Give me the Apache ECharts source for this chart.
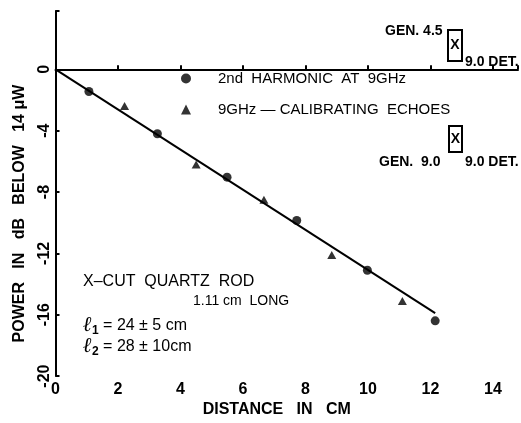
<!DOCTYPE html>
<html><head><meta charset="utf-8">
<script src="https://cdn.jsdelivr.net/npm/echarts@6/dist/echarts.min.js"></script>
<style>html,body{margin:0;padding:0;background:#fff}#c{width:521px;height:423px}</style>
</head><body><div id="c"></div>
<script>
// Data
const harmonicX = [1.07, 3.26, 5.49, 7.72, 9.98, 12.15];
const harmonicY = [-1.45, -4.2, -7.03, -9.86, -13.1, -16.4];
const echoX = [2.21, 4.5, 6.67, 8.84, 11.1];
const echoY = [-2.4, -6.2, -8.5, -12.1, -15.1];
const fitX = [0, 12.15];
const fitY = [0, -15.9];
const xTicks = [0, 2, 4, 6, 8, 10, 12, 14];
const yTicks = [0, -4, -8, -12, -16, -20];
const seriesNames = ['2nd  HARMONIC  AT  9GHz', '9GHz — CALIBRATING  ECHOES'];

const zip = (a, b) => a.map((v, i) => [v, b[i]]);
const FONT = 'Liberation Sans';
const chart = echarts.init(document.getElementById('c'));
chart.setOption({
  backgroundColor: '#fff',
  animation: false,
  textStyle: { fontFamily: FONT, color: '#000' },
  grid: { left: 55.5, right: 1, top: 11, bottom: 42 },
  legend: {
    orient: 'vertical', left: 176, top: 66, itemWidth: 10, itemHeight: 10, itemGap: 16,
    data: seriesNames,
    textStyle: { fontFamily: FONT, fontSize: 15, color: '#000', padding: [0, 0, 0, 22] }
  },
  xAxis: {
    type: 'value', min: 0, max: 14.8, interval: 2,
    name: 'DISTANCE   IN   CM', nameLocation: 'middle', nameGap: 25,
    nameTextStyle: { fontFamily: FONT, fontSize: 16, fontWeight: 'bold', color: '#000', padding: [0, 20, 0, 0] },
    axisLine: { lineStyle: { color: '#000', width: 2 } },
    axisTick: { inside: true, length: 4, lineStyle: { color: '#000', width: 2 } },
    axisLabel: { fontSize: 16, fontWeight: 'bold', color: '#000', margin: 5,
      formatter: v => xTicks.includes(v) ? String(v) : '' },
    splitLine: { show: false }
  },
  yAxis: {
    type: 'value', min: -20, max: 3.8, interval: 4,
    name: 'POWER   IN   dB   BELOW   14 μW', nameLocation: 'middle', nameGap: 28, nameRotate: 90,
    nameTextStyle: { fontFamily: FONT, fontSize: 16, fontWeight: 'bold', color: '#000', padding: [0, 40, 0, 0] },
    axisLine: { lineStyle: { color: '#000', width: 2 } },
    axisTick: { inside: true, length: 4, lineStyle: { color: '#000', width: 2 } },
    axisLabel: { fontSize: 16, fontWeight: 'bold', color: '#000', rotate: 90, margin: 3,
      formatter: v => yTicks.includes(v) ? String(v) : '' },
    splitLine: { show: false }
  },
  series: [
    { name: 'fit', type: 'line', data: zip(fitX, fitY), symbol: 'none',
      lineStyle: { color: '#000', width: 2 }, silent: true, z: 1 },
    { name: seriesNames[0], type: 'scatter', data: zip(harmonicX, harmonicY),
      symbol: 'circle', symbolSize: 9, itemStyle: { color: '#000' }, z: 3 },
    { name: seriesNames[1], type: 'scatter', data: zip(echoX, echoY),
      symbol: 'triangle', symbolSize: [9, 8], itemStyle: { color: '#000' }, z: 3 }
  ],
  graphic: [
    { type: 'text', left: 385, top: 24, style: { text: 'GEN. 4.5', font: 'bold 14px ' + FONT, fill: '#000' } },
    { type: 'rect', shape: { x: 448, y: 30, width: 14, height: 31 }, style: { fill: 'none', stroke: '#000', lineWidth: 2 } },
    { type: 'text', x: 455, y: 45.5, style: { text: 'X', font: 'bold 14px ' + FONT, fill: '#000', align: 'center', verticalAlign: 'middle' } },
    { type: 'text', left: 465, top: 55, style: { text: '9.0 DET.', font: 'bold 14px ' + FONT, fill: '#000' } },
    { type: 'rect', shape: { x: 449, y: 126, width: 13, height: 26 }, style: { fill: 'none', stroke: '#000', lineWidth: 2 } },
    { type: 'text', x: 455.5, y: 139, style: { text: 'X', font: 'bold 14px ' + FONT, fill: '#000', align: 'center', verticalAlign: 'middle' } },
    { type: 'text', left: 379, top: 155, style: { text: 'GEN.  9.0', font: 'bold 14px ' + FONT, fill: '#000' } },
    { type: 'text', left: 465, top: 155, style: { text: '9.0 DET.', font: 'bold 14px ' + FONT, fill: '#000' } },
    { type: 'text', left: 83, top: 274, style: { text: 'X–CUT  QUARTZ  ROD', font: '16px ' + FONT, fill: '#000' } },
    { type: 'text', left: 193, top: 294, style: { text: '1.11 cm  LONG', font: '14px ' + FONT, fill: '#000' } },
    { type: 'text', left: 83, top: 315, style: {
        text: '{l|ℓ}{s|1}{t| = 24 ± 5 cm}',
        rich: { l: { font: 'italic bold 21px DejaVu Serif', fill: '#000' },
                s: { font: 'bold 12px ' + FONT, fill: '#000', padding: [10, 0, 0, 0] },
                t: { font: '16px ' + FONT, fill: '#000' } } } },
    { type: 'text', left: 83, top: 336, style: {
        text: '{l|ℓ}{s|2}{t| = 28 ± 10cm}',
        rich: { l: { font: 'italic bold 21px DejaVu Serif', fill: '#000' },
                s: { font: 'bold 12px ' + FONT, fill: '#000', padding: [10, 0, 0, 0] },
                t: { font: '16px ' + FONT, fill: '#000' } } } }
  ]
});
</script></body></html>
